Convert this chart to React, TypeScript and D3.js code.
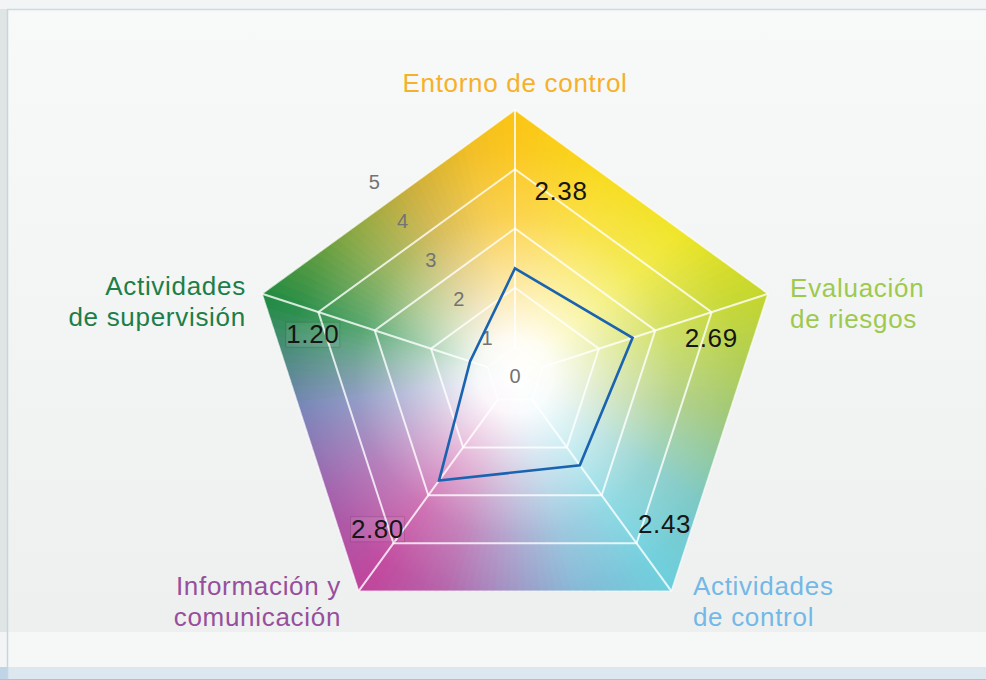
import React from "react";
import * as d3 from "d3";

// chart data
const categories = [
  ["Entorno de control"],
  ["Evaluación", "de riesgos"],
  ["Actividades", "de control"],
  ["Información y", "comunicación"],
  ["Actividades", "de supervisión"],
];
const categoryColors = ["#f6b12a", "#9dca4c", "#73b8e6", "#974f9c", "#1c7e48"];
const values = [2.38, 2.69, 2.43, 2.8, 1.2];
const valueLabels = ["2.38", "2.69", "2.43", "2.80", "1.20"];
const ticks = [0, 1, 2, 3, 4, 5];

// colours round the pentagon rim, by angle (degrees, clockwise from top)
const rimAngles = [0, 25, 50, 72, 100, 125, 144, 165, 182, 200, 216, 240, 262, 280, 288, 310, 332, 350, 360];
const rimColors = [
  "#fbc414", "#f8d910", "#eee419", "#c4d62c", "#9cc46c", "#74c5c2", "#6ccfdc", "#80b4d4",
  "#9a8cc0", "#b25ba6", "#c0439b", "#9b5aa8", "#6f7cb4", "#3a8a68", "#1f8a40", "#7aa036",
  "#c9a82a", "#f2bd1c", "#fbc414",
];

const W = 986;
const H = 680;
const cx = 515;
const cy = 376;
const R = 266;

export default function App() {
  const n = categories.length;
  const angle = d3.scaleLinear().domain([0, n]).range([0, 2 * Math.PI]);
  const ringScale = d3.scaleLinear().domain([1, 5]).range([29, R]);
  const valueScale = d3.scaleLinear().domain([1, 5]).range([37, 242]);
  const rimColor = d3.scaleLinear<string>().domain(rimAngles).range(rimColors).interpolate(d3.interpolateRgb);

  const polar = (a: number, r: number): [number, number] => [
    cx + r * Math.sin(a),
    cy - r * Math.cos(a),
  ];

  const radial = d3
    .lineRadial<number>()
    .angle((_, i) => angle(i))
    .curve(d3.curveLinearClosed);

  const ringPath = (r: number) => radial.radius(() => r)(d3.range(n)) as string;
  const outer = ringPath(R);
  const dataPath = d3
    .lineRadial<number>()
    .angle((_, i) => angle(i))
    .radius((d) => valueScale(d))
    .curve(d3.curveLinearClosed)(values) as string;

  const step = 2;
  const wedge = d3.arc<any>();
  const wedges = d3.range(0, 360, step).map((deg) => ({
    d: wedge({
      innerRadius: 0,
      outerRadius: R * 1.3,
      startAngle: ((deg - 0.6) * Math.PI) / 180,
      endAngle: ((deg + step + 0.6) * Math.PI) / 180,
    }) as string,
    fill: rimColor(deg + step / 2),
  }));

  const labelOffsets = [
    { anchor: "middle", dx: 0, dy: 0 },
    { anchor: "start", dx: 5, dy: 9 },
    { anchor: "start", dx: 11, dy: -11 },
    { anchor: "end", dx: -7, dy: -11 },
    { anchor: "end", dx: 1, dy: 7 },
  ];
  const valueOffsets = [
    [46, 24],
    [6, 33],
    [32, -5],
    [-20, 0],
    [-12, 29],
  ];
  const bisector = -Math.PI / 5;
  const cos36 = Math.cos(Math.PI / 5);

  return (
    <svg
      width={W}
      height={H}
      style={{ position: "absolute", left: 0, top: 0, display: "block" }}
      fontFamily="'Liberation Sans', Arial, sans-serif"
    >
      <defs>
        <linearGradient id="panel" x1="0" y1="0" x2="0" y2="1">
          <stop offset="0" stopColor="#f8f9f9" />
          <stop offset="1" stopColor="#eef0f0" />
        </linearGradient>
        <radialGradient id="glow" gradientUnits="userSpaceOnUse" cx={cx} cy={cy} r={R}>
          <stop offset="0" stopColor="#fff" stopOpacity={1} />
          <stop offset="0.14" stopColor="#fff" stopOpacity={0.95} />
          <stop offset="0.36" stopColor="#fff" stopOpacity={0.6} />
          <stop offset="0.6" stopColor="#fff" stopOpacity={0.25} />
          <stop offset="0.85" stopColor="#fff" stopOpacity={0.05} />
          <stop offset="1" stopColor="#fff" stopOpacity={0} />
        </radialGradient>
        <clipPath id="penta">
          <path d={outer} transform={`translate(${cx},${cy})`} />
        </clipPath>
      </defs>

      {/* page background */}
      <rect x={0} y={0} width={W} height={H} fill="#f2f4f5" />
      <rect x={0} y={9} width={7} height={623} fill="#dfe4e5" />
      <rect x={7} y={9} width={W - 7} height={623} fill="url(#panel)" />
      <rect x={7} y={632} width={W - 7} height={35} fill="#f6f8f8" />
      <rect x={0} y={667} width={W} height={13} fill="#dce7f0" />
      <rect x={0} y={667} width={7} height={13} fill="#bfd4e6" />
      <line x1={7} x2={W} y1={9.5} y2={9.5} stroke="#cadbe4" strokeWidth={1.5} />
      <line x1={7.5} x2={7.5} y1={9} y2={H} stroke="#c6d6df" strokeWidth={1.5} />
      <line x1={0} x2={W} y1={679.5} y2={679.5} stroke="#a9c3d6" />

      {/* coloured pentagon */}
      <g clipPath="url(#penta)">
        <g transform={`translate(${cx},${cy})`}>
          {wedges.map((w, i) => (
            <path key={i} d={w.d} fill={w.fill} />
          ))}
        </g>
        <rect x={cx - R * 1.3} y={cy - R * 1.3} width={R * 2.6} height={R * 2.6} fill="url(#glow)" />
      </g>

      {/* grid */}
      <g transform={`translate(${cx},${cy})`} fill="none" stroke="#fff">
        {ticks.slice(1).map((t) => (
          <path
            key={t}
            d={ringPath(ringScale(t))}
            strokeWidth={t === 5 ? 1.5 : 2}
            strokeOpacity={t === 1 ? 0.55 : t === 5 ? 0.7 : 0.8}
          />
        ))}
        {d3.range(n).map((i) => {
          const a = angle(i);
          const r0 = ringScale(1);
          return (
            <line
              key={i}
              x1={r0 * Math.sin(a)}
              y1={-r0 * Math.cos(a)}
              x2={R * Math.sin(a)}
              y2={-R * Math.cos(a)}
              strokeWidth={2}
              strokeOpacity={0.8}
            />
          );
        })}
      </g>

      {/* tick labels */}
      {ticks.map((t) => {
        const r = t === 0 ? 0 : ringScale(t) * cos36 + 24;
        const [x, y] = polar(bisector, r);
        return (
          <text key={t} x={x} y={y + 7} textAnchor="middle" fontSize={20} fill="#737373">
            {t}
          </text>
        );
      })}

      {/* data line */}
      <path
        d={dataPath}
        transform={`translate(${cx},${cy})`}
        fill="none"
        stroke="#1a63b0"
        strokeWidth={2.6}
        strokeLinejoin="miter"
      />

      {/* value labels */}
      {valueLabels.map((v, i) => {
        const [x, y] = polar(angle(i), 200);
        const tx = x + valueOffsets[i][0];
        const ty = y + valueOffsets[i][1];
        return (
          <g key={v}>
            {(i === 3 || i === 4) && (
              <rect
                x={tx - 27}
                y={ty - 21}
                width={54}
                height={25}
                fill="#ffffff"
                fillOpacity={0.08}
                stroke="#000"
                strokeOpacity={0.15}
                strokeWidth={0.8}
              />
            )}
            <text x={tx} y={ty} textAnchor="middle" fontSize={26} letterSpacing={0.6} fill="#161616">
              {v}
            </text>
          </g>
        );
      })}

      {/* category labels */}
      {categories.map((lines, i) => {
        const [x, y] = polar(angle(i), 284);
        const o = labelOffsets[i];
        return (
          <text
            key={i}
            x={x + o.dx}
            y={y + o.dy}
            textAnchor={o.anchor as any}
            fontSize={26}
            letterSpacing={0.7}
            fill={categoryColors[i]}
          >
            {lines.map((l, j) => (
              <tspan key={j} x={x + o.dx} dy={j === 0 ? 0 : 31}>
                {l}
              </tspan>
            ))}
          </text>
        );
      })}
    </svg>
  );
}
